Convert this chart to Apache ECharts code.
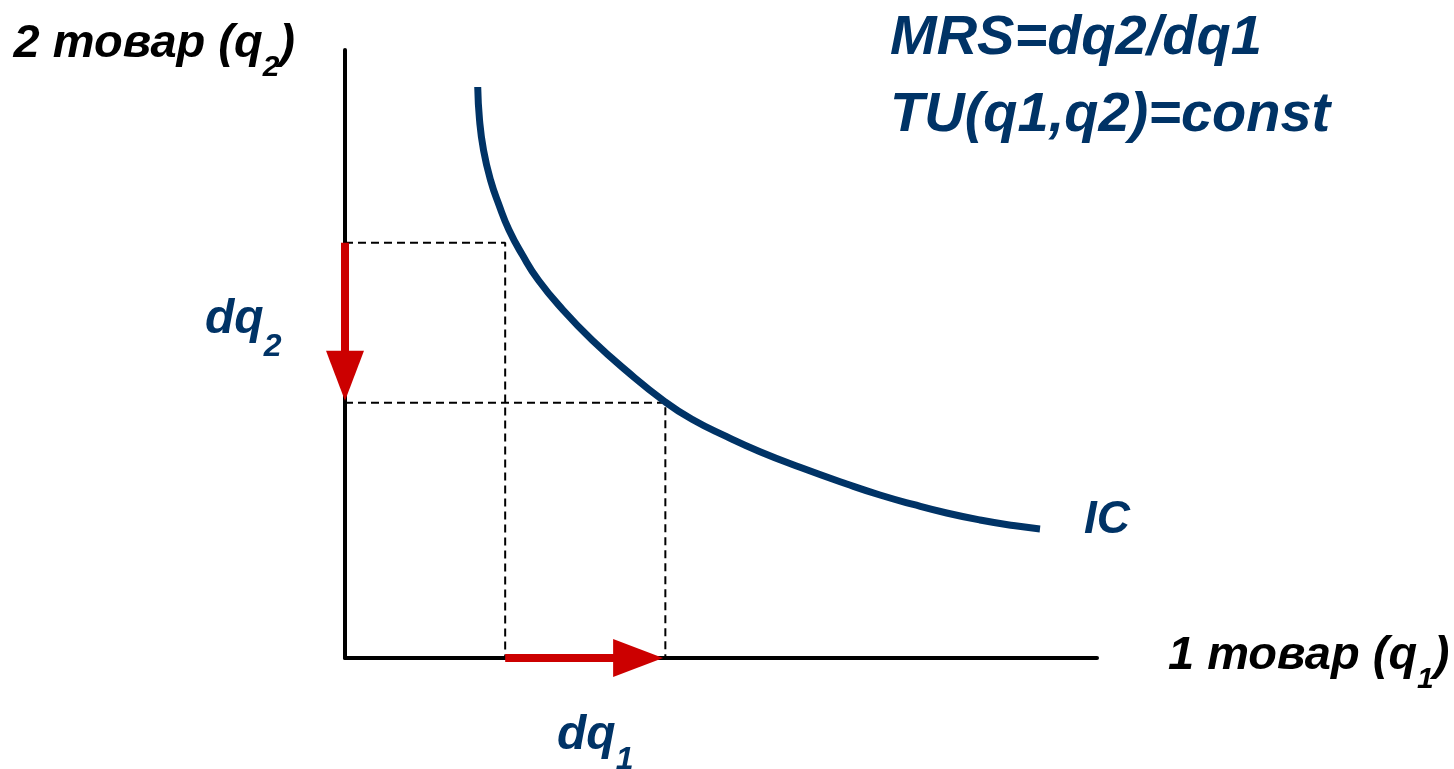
<!DOCTYPE html>
<html>
<head>
<meta charset="utf-8">
<script src="https://cdn.jsdelivr.net/npm/echarts@6/dist/echarts.min.js"></script>
<style>html,body{margin:0;padding:0;background:#fff;}#c{width:1454px;height:769px;}</style>
</head>
<body>
<div id="c"></div>
<script>
// Indifference curve IC (q1, q2)
const curveQ1 = [1.765, 1.789, 1.842, 1.935, 2.048, 2.181, 2.360, 2.570, 2.899, 3.285, 3.746, 4.255, 4.614, 5.076, 5.519, 6.051, 6.672, 7.114, 7.557, 8.001, 8.444, 8.887, 9.242];
const curveQ2 = [9.391, 8.849, 8.355, 7.862, 7.451, 7.039, 6.628, 6.217, 5.724, 5.230, 4.720, 4.215, 3.926, 3.640, 3.393, 3.137, 2.862, 2.681, 2.525, 2.385, 2.270, 2.179, 2.122];
// Dashed guide points
const guideQ1 = [2.13, 4.26];
const guideQ2 = [6.83, 4.20];
// Arrows: [fromQ1, fromQ2, toQ1, toQ2]
const arrowDq2 = [0, 6.83, 0, 4.23];
const arrowDq1 = [2.13, 0, 4.23, 0];
// Texts
const formulaLines = ['MRS=dq2/dq1', 'TU(q1,q2)=const'];
const curveName = 'IC';
const yAxisName = ['2 товар (q', '2', ')'];
const xAxisName = ['1 товар (q', '1', ')'];
const dq2Label = ['dq', '2'];
const dq1Label = ['dq', '1'];

const FONT = "'Liberation Sans', Arial, sans-serif";
const BLUE = '#003366';
const RED = '#cc0000';

function richStyles(color, main, sub, subPad) {
  return {
    m: {fontSize: main, fontWeight: 'bold', fontStyle: 'italic', fontFamily: FONT, color: color, lineHeight: main + 4, verticalAlign: 'top'},
    s: {fontSize: sub, fontWeight: 'bold', fontStyle: 'italic', fontFamily: FONT, color: color, lineHeight: sub, padding: [subPad, 0, 0, 0], verticalAlign: 'top'}
  };
}
function richText(parts) {
  let s = '{m|' + parts[0] + '}{s|' + parts[1] + '}';
  if (parts[2]) s += '{m|' + parts[2] + '}';
  return s;
}

const chart = echarts.init(document.getElementById('c'));
chart.setOption({
  backgroundColor: '#ffffff',
  animation: false,
  title: [
    {
      text: formulaLines.join('\n'),
      left: 890, top: 0, padding: 0,
      textStyle: {fontSize: 56, fontWeight: 'bold', fontStyle: 'italic', fontFamily: FONT, color: BLUE, lineHeight: 77}
    },
    {
      text: richText(dq2Label), left: 205, top: 296, padding: 0,
      textStyle: {rich: richStyles(BLUE, 48, 32, 35)}
    },
    {
      text: richText(dq1Label), left: 557, top: 712, padding: 0,
      textStyle: {rich: richStyles(BLUE, 48, 32, 32)}
    }
  ],
  grid: {left: 345, top: 50, right: 357, bottom: 111, containLabel: false},
  xAxis: {
    type: 'value', min: 0, max: 10,
    name: richText(xAxisName), nameLocation: 'end', nameGap: 71,
    nameTextStyle: {align: 'left', verticalAlign: 'middle', rich: richStyles('#000', 47, 30, 32)},
    axisLine: {show: true, lineStyle: {color: '#000', width: 4}},
    axisTick: {show: false}, axisLabel: {show: false}, splitLine: {show: false}
  },
  yAxis: {
    type: 'value', min: 0, max: 10,
    name: richText(yAxisName), nameLocation: 'end', nameGap: 4,
    nameTextStyle: {align: 'right', verticalAlign: 'middle', padding: [0, 50, 0, 0], rich: richStyles('#000', 47, 30, 32)},
    axisLine: {show: true, lineStyle: {color: '#000', width: 4}},
    axisTick: {show: false}, axisLabel: {show: false}, splitLine: {show: false}
  },
  series: [
    {
      type: 'line', name: 'guide1', symbol: 'none', silent: true, z: 3,
      data: [[0, guideQ2[0]], [guideQ1[0], guideQ2[0]], [guideQ1[0], 0]],
      lineStyle: {color: '#000', width: 2, type: [8, 5]}
    },
    {
      type: 'line', name: 'guide2', symbol: 'none', silent: true, z: 3,
      data: [[0, guideQ2[1]], [guideQ1[1], guideQ2[1]], [guideQ1[1], 0]],
      lineStyle: {color: '#000', width: 2, type: [8, 5]}
    },
    {
      type: 'line', name: curveName, symbol: 'none', smooth: 0.5, z: 4,
      data: curveQ1.map((q, i) => [q, curveQ2[i]]),
      lineStyle: {color: BLUE, width: 7},
      endLabel: {
        show: true, formatter: curveName, distance: 44, offset: [0, -9],
        fontSize: 46, fontWeight: 'bold', fontStyle: 'italic', fontFamily: FONT, color: BLUE
      }
    },
    {
      type: 'custom', name: 'arrows', z: 5, silent: true,
      data: [arrowDq2, arrowDq1],
      renderItem: function (params, api) {
        const p0 = api.coord([api.value(0), api.value(1)]);
        const p1 = api.coord([api.value(2), api.value(3)]);
        const dx = p1[0] - p0[0], dy = p1[1] - p0[1];
        const len = Math.hypot(dx, dy);
        const ux = dx / len, uy = dy / len;
        const headL = 50, headW = 38;
        const bx = p1[0] - ux * headL, by = p1[1] - uy * headL;
        const nx = -uy, ny = ux;
        return {
          type: 'group',
          children: [
            {type: 'line', shape: {x1: p0[0], y1: p0[1], x2: bx + ux, y2: by + uy}, style: {stroke: RED, lineWidth: 8}},
            {type: 'polygon', shape: {points: [[p1[0], p1[1]], [bx + nx * headW / 2, by + ny * headW / 2], [bx - nx * headW / 2, by - ny * headW / 2]]}, style: {fill: RED}}
          ]
        };
      }
    }
  ]
});
</script>
</body>
</html>
